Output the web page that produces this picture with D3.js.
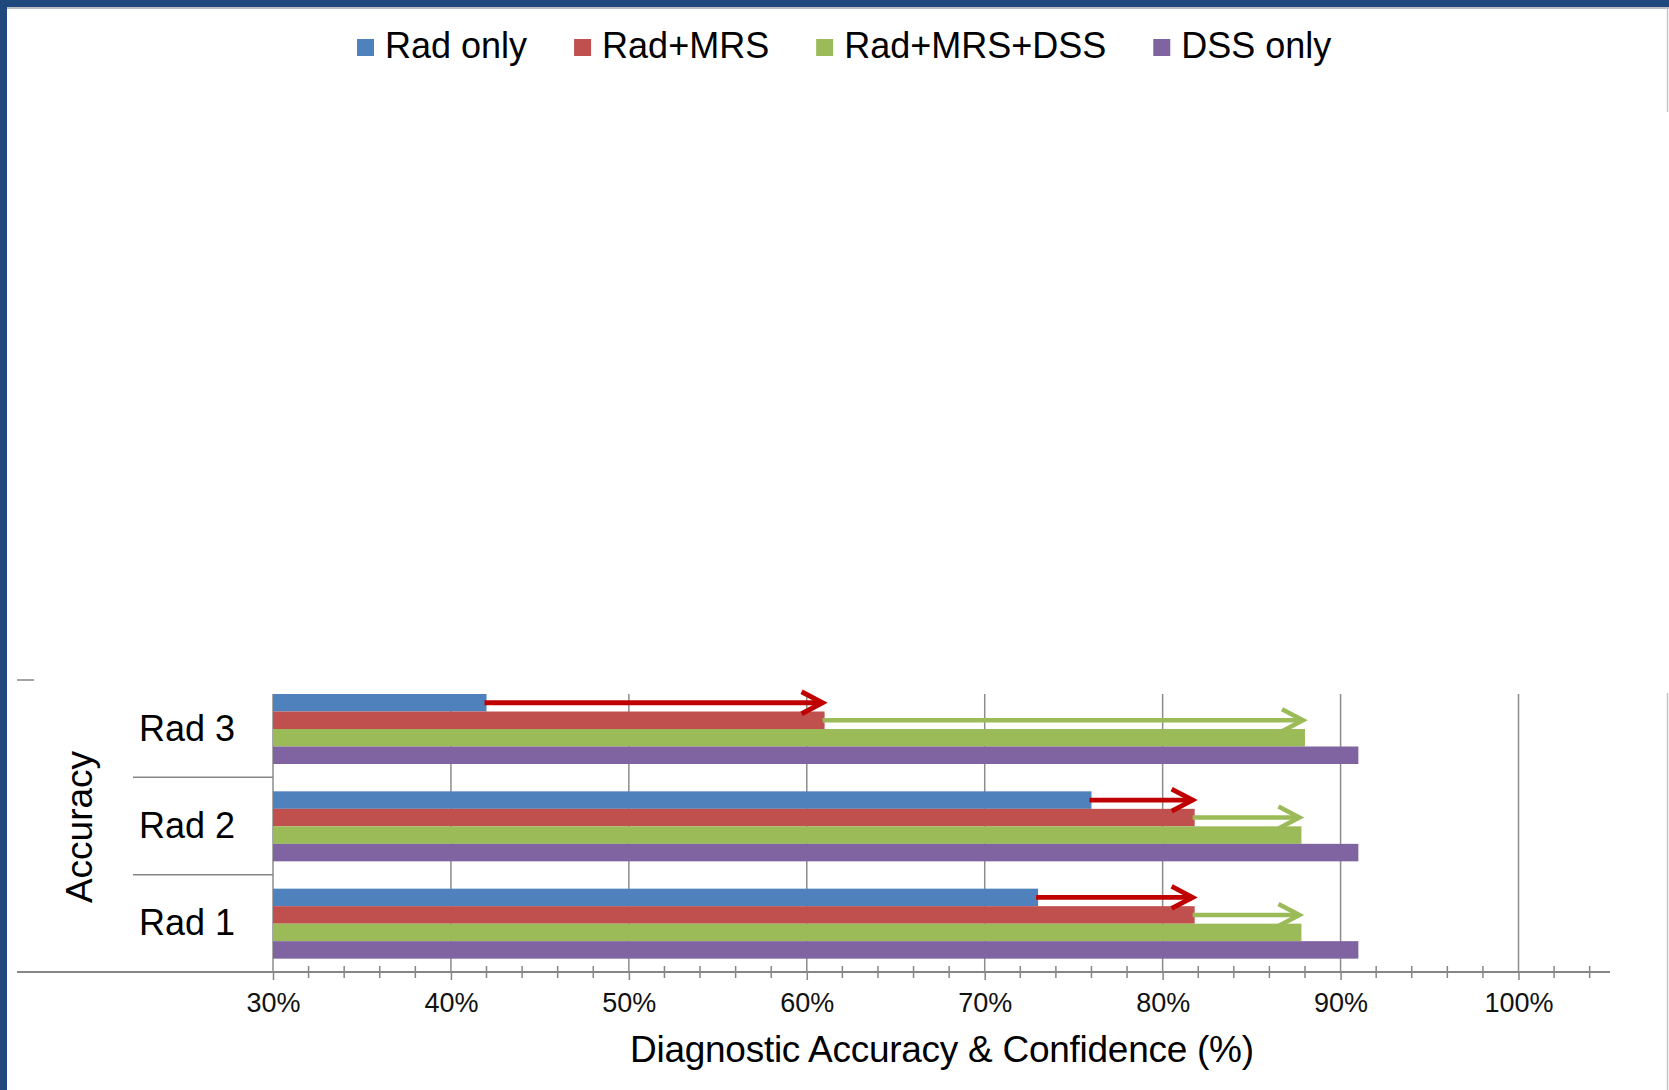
<!DOCTYPE html>
<html>
<head>
<meta charset="utf-8">
<script src="https://cdn.jsdelivr.net/npm/d3@7"></script>
<style>
  html, body { margin: 0; padding: 0; background: #ffffff; }
  svg { display: block; font-family: "Liberation Sans", Arial, sans-serif; }
</style>
</head>
<body>
<script>
// Categories listed bottom to top, as on the chart
const categories = ["Rad 1", "Rad 2", "Rad 3"];
const seriesNames = ["Rad only", "Rad+MRS", "Rad+MRS+DSS", "DSS only"];
const seriesColors = ["#4f81bd", "#c0504d", "#9bbb59", "#8064a2"];

// Diagnostic accuracy (%) per radiologist
const radOnly   = [73, 76, 42];
const radMrs    = [81.8, 81.8, 61];
const radMrsDss = [87.8, 87.8, 88];
const dssOnly   = [91, 91, 91];

const tickValues = [30, 40, 50, 60, 70, 80, 90, 100];
const tickLabels = ["30%", "40%", "50%", "60%", "70%", "80%", "90%", "100%"];
const minorTicks = [32, 34, 36, 38, 42, 44, 46, 48, 52, 54, 56, 58, 62, 64, 66, 68,
                    72, 74, 76, 78, 82, 84, 86, 88, 92, 94, 96, 98, 102, 104];

const seriesValues = [radOnly, radMrs, radMrsDss, dssOnly];

const W = 1669, H = 1090;
const svg = d3.select("body").append("svg").attr("width", W).attr("height", H);

svg.append("rect").attr("width", W).attr("height", H).attr("fill", "#ffffff");

// Slide frame: dark blue band on top and left, thin grey edge on the right
svg.append("rect").attr("x", 0).attr("y", 7).attr("width", W).attr("height", 2).attr("fill", "#b8bcc4");
svg.append("rect").attr("x", 0).attr("y", 0).attr("width", W).attr("height", 7).attr("fill", "#1f497d");
svg.append("rect").attr("x", 0).attr("y", 0).attr("width", 7).attr("height", H).attr("fill", "#1f497d");
svg.append("line").attr("x1", 1667.5).attr("x2", 1667.5).attr("y1", 8).attr("y2", 112)
  .attr("stroke", "#c4c4c4").attr("stroke-width", 1.5);
svg.append("line").attr("x1", 1667.5).attr("x2", 1667.5).attr("y1", 693).attr("y2", H)
  .attr("stroke", "#c4c4c4").attr("stroke-width", 1.5);

// Scales
const x = d3.scaleLinear().domain([30, 100]).range([273, 1518.5]);
const y = d3.scaleBand().domain(categories.slice().reverse()).range([680, 972]);
const ys = d3.scaleBand().domain(seriesNames).range([14, 84]);
const axisY = 972;

// Vertical gridlines
svg.append("g").selectAll("line").data(tickValues).join("line")
  .attr("x1", d => x(d)).attr("x2", d => x(d))
  .attr("y1", 694).attr("y2", axisY)
  .attr("stroke", "#8c8c8c").attr("stroke-width", 1.5);

// Bars
const groups = svg.append("g").selectAll("g").data(categories).join("g")
  .attr("transform", d => `translate(0,${y(d)})`);

groups.selectAll("rect")
  .data((c, ci) => seriesNames.map((s, si) => ({ s, si, v: seriesValues[si][ci] })))
  .join("rect")
  .attr("x", x(30))
  .attr("y", d => ys(d.s))
  .attr("width", d => x(d.v) - x(30))
  .attr("height", ys.bandwidth())
  .attr("fill", d => seriesColors[d.si]);

// Improvement arrows: Rad only -> Rad+MRS (red), Rad+MRS -> Rad+MRS+DSS (green)
function arrow(g, from, to, yy, color, width) {
  const tip = x(to) - 2;
  g.append("line")
    .attr("x1", x(from) - 2).attr("x2", tip - 1)
    .attr("y1", yy).attr("y2", yy)
    .attr("stroke", color).attr("stroke-width", width);
  g.append("path")
    .attr("d", `M${tip - 21},${yy - 11}L${tip},${yy}L${tip - 21},${yy + 11}`)
    .attr("fill", "none").attr("stroke", color).attr("stroke-width", width)
    .attr("stroke-linejoin", "miter").attr("stroke-linecap", "butt");
}
categories.forEach((c, ci) => {
  const g = svg.append("g").attr("transform", `translate(0,${y(c)})`);
  arrow(g, radOnly[ci], radMrs[ci], ys("Rad only") + ys.bandwidth() / 2, "#c00000", 4.8);
  arrow(g, radMrs[ci], radMrsDss[ci], ys("Rad+MRS") + ys.bandwidth() / 2, "#9bbb59", 4.5);
});

// Value axis
svg.append("line").attr("x1", 17).attr("x2", 1610).attr("y1", axisY).attr("y2", axisY)
  .attr("stroke", "#868686").attr("stroke-width", 2);

svg.append("g").selectAll("line").data(minorTicks).join("line")
  .attr("x1", d => x(d)).attr("x2", d => x(d))
  .attr("y1", axisY - 6).attr("y2", axisY + 6)
  .attr("stroke", "#868686").attr("stroke-width", 1.5);

const xAxis = d3.axisBottom(x).tickValues(tickValues)
  .tickFormat((d, i) => tickLabels[i]).tickSize(8).tickSizeOuter(0);
const gx = svg.append("g").attr("transform", `translate(0,${axisY})`).call(xAxis);
gx.select(".domain").remove();
gx.selectAll(".tick line").attr("stroke", "#868686").attr("stroke-width", 1.5);
gx.selectAll(".tick text")
  .attr("y", 40).attr("dy", null)
  .attr("fill", "#111111")
  .style("font-family", "'Liberation Sans', Arial, sans-serif")
  .style("font-size", "27px");

// Category axis: separators between groups and the outer tick
const sepYs = categories.slice(1).map(c => y(c) + y.bandwidth());
svg.append("g").selectAll("line").data(sepYs).join("line")
  .attr("x1", 133).attr("x2", 273).attr("y1", d => d).attr("y2", d => d)
  .attr("stroke", "#868686").attr("stroke-width", 1.5);
svg.append("line").attr("x1", 17).attr("x2", 34).attr("y1", 680).attr("y2", 680)
  .attr("stroke", "#868686").attr("stroke-width", 1.5);

svg.append("g").selectAll("text").data(categories).join("text")
  .attr("x", 187)
  .attr("y", d => y(d) + y.bandwidth() / 2 + 12)
  .attr("text-anchor", "middle")
  .attr("fill", "#000000")
  .style("font-size", "36px")
  .text(d => d);

svg.append("text")
  .attr("transform", `translate(92,${(680 + axisY) / 2 + 1}) rotate(-90)`)
  .attr("text-anchor", "middle")
  .attr("fill", "#000000")
  .style("font-size", "37px")
  .text("Accuracy");

// Axis title
svg.append("text")
  .attr("x", 942).attr("y", 1062)
  .attr("text-anchor", "middle")
  .attr("fill", "#000000")
  .style("font-size", "37px")
  .attr("textLength", 624).attr("lengthAdjust", "spacing")
  .text("Diagnostic Accuracy & Confidence (%)");

// Legend
const legend = svg.append("g");
let lx = 357;
seriesNames.forEach((name, i) => {
  legend.append("rect")
    .attr("x", lx).attr("y", 39).attr("width", 17).attr("height", 17)
    .attr("fill", seriesColors[i]);
  const t = legend.append("text")
    .attr("x", lx + 28).attr("y", 58)
    .attr("fill", "#000000")
    .style("font-size", "36px")
    .text(name);
  lx += 28 + t.node().getComputedTextLength() + 47;
});
</script>
</body>
</html>
